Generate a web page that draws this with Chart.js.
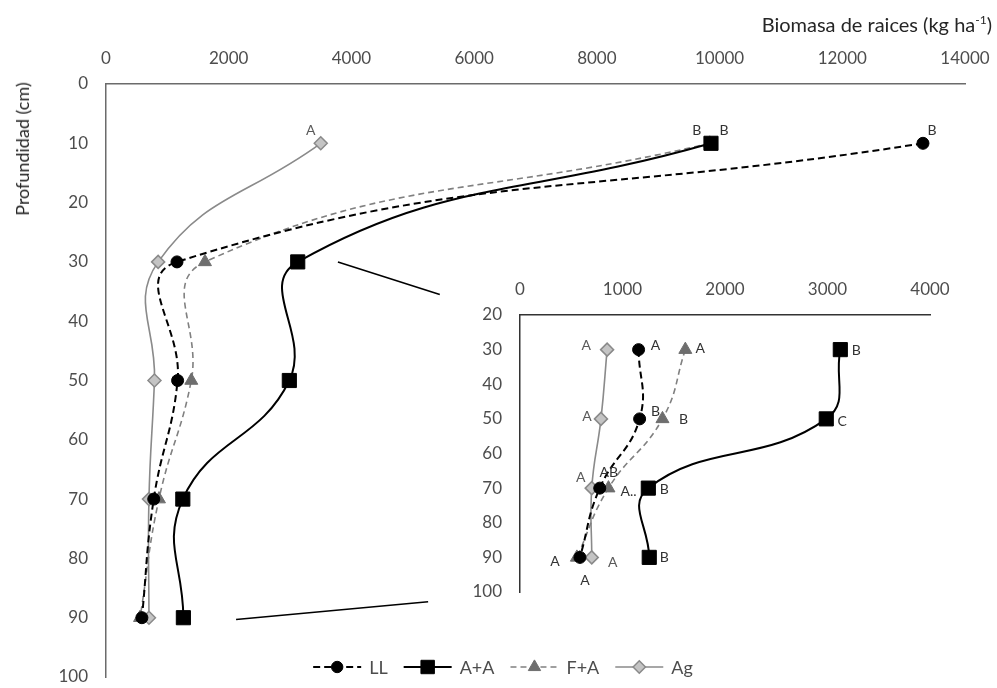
<!DOCTYPE html>
<html>
<head>
<meta charset="utf-8">
<script src="https://cdn.jsdelivr.net/npm/chart.js@4.4.1/dist/chart.umd.min.js"></script>
<style>
  body { margin: 0; background: #fff; font-family: Lato, sans-serif; }
  #wrap { position: relative; width: 997px; height: 688px; }
  #main { position: absolute; left: 0; top: 0; }
  #inset { position: absolute; left: 440px; top: 270px; }
  .ttl { position: absolute; color: #262626; font-size: 20px; white-space: nowrap; }
  #xTitle { right: 5px; top: 12px; }
  #xTitle sup { font-size: 12px; }
  #yTitle { left: 22px; top: 149px; transform: translate(-50%, -50%) rotate(-90deg); font-size: 18px; }
</style>
</head>
<body>
<div id="wrap">
  <canvas id="main" width="997" height="688"></canvas>
  <canvas id="inset" width="530" height="335"></canvas>
  <div class="ttl" id="xTitle">Biomasa de raices (kg ha<sup>-1</sup>)</div>
  <div class="ttl" id="yTitle">Profundidad (cm)</div>
</div>
<script>
// profundidad (cm) de cada muestra
const depths = [10, 30, 50, 70, 90];

// biomasa de raices (kg/ha) por tratamiento
const seriesNames = ['LL', 'A+A', 'F+A', 'Ag'];
const valuesLL = [13315, 1157, 1167, 778, 585];
const valuesAA = [9860, 3125, 2988, 1252, 1261];
const valuesFA = [9840, 1613, 1390, 863, 555];
const valuesAg = [3500, 850, 790, 700, 700];

// letras de significancia (10 cm en el grafico principal, 30-90 cm en el detalle)
const lettersLL = ['B', 'A', 'B', 'AB', 'A'];
const lettersAA = ['B', 'B', 'C', 'B', 'B'];
const lettersFA = ['B', 'A', 'B', 'A..', 'A'];
const lettersAg = ['A', 'A', 'A', 'A', 'A'];

const mainXTicks = [0, 2000, 4000, 6000, 8000, 10000, 12000, 14000];
const insetXTicks = [0, 1000, 2000, 3000, 4000];

// where each letter sits relative to its point (px)
const letterOffsets = [
  [[9, -13], [17, -4], [16, -7], [9, -16], [-25, 4]],
  [[13, -13], [16, 1], [16, 3], [16, 1], [15, 0]],
  [[-13, -13], [15, -1], [21, 1], [20, 3], [8, 23]],
  [[-10, -13], [-21, -4], [-14, -2], [-11, -11], [21, 5]]
];

const FONT = 'Lato, sans-serif';
const TICK_COLOR = '#4d4d4d';

const styles = [
  { color: '#000000', fill: '#000000', dash: [7, 4], width: 2, point: 'circle', r: 6 },
  { color: '#000000', fill: '#000000', dash: [], width: 2, point: 'rect', r: 10 },
  { color: '#808080', fill: '#6e6e6e', dash: [6, 4], width: 1.6, point: 'triangle', r: 7.5 },
  { color: '#8a8a8a', fill: '#c4c4c4', dash: [], width: 1.6, point: 'rectRot', r: 6.5 }
];
const allValues = [valuesLL, valuesAA, valuesFA, valuesAg];
const allLetters = [lettersLL, lettersAA, lettersFA, lettersAg];

function buildDatasets(from) {
  return seriesNames.map((name, s) => ({
    label: name,
    data: depths.slice(from).map((d, i) => ({ x: allValues[s][i + from], y: d })),
    letters: allLetters[s].slice(from),
    offsets: letterOffsets[s].slice(from),
    showLine: true,
    tension: 0.45,
    borderColor: styles[s].color,
    borderWidth: styles[s].width,
    borderDash: styles[s].dash,
    backgroundColor: styles[s].fill,
    pointStyle: styles[s].point,
    pointRadius: styles[s].r,
    pointBorderColor: s === 3 ? '#8a8a8a' : styles[s].fill,
    pointBorderWidth: s === 3 ? 1.5 : 1
  }));
}

// letters next to the markers
const letterPlugin = {
  id: 'letters',
  afterDatasetsDraw(chart) {
    const ctx = chart.ctx;
    ctx.save();
    ctx.font = '14px ' + FONT;
    ctx.textAlign = 'center';
    ctx.textBaseline = 'middle';
    chart.data.datasets.forEach((ds, s) => {
      const meta = chart.getDatasetMeta(s);
      ctx.fillStyle = s === 3 ? '#5a5a5a' : '#333333';
      meta.data.forEach((pt, i) => {
        const off = ds.offsets[i];
        if (chart.options.showAllLetters || i === 0) {
          ctx.fillText(ds.letters[i], pt.x + off[0], pt.y + off[1]);
        }
      });
    });
    ctx.restore();
  }
};

// zoom connector lines + legend on the main chart
const mainExtras = {
  id: 'mainExtras',
  afterDraw(chart) {
    const ctx = chart.ctx;
    const xs = chart.scales.x, ys = chart.scales.y;
    ctx.save();
    ctx.strokeStyle = '#000';
    ctx.lineWidth = 1.6;
    ctx.beginPath();
    ctx.moveTo(xs.getPixelForValue(3780), ys.getPixelForValue(30));
    ctx.lineTo(xs.getPixelForValue(5440), ys.getPixelForValue(35.5));
    ctx.moveTo(xs.getPixelForValue(2120), ys.getPixelForValue(90.3));
    ctx.lineTo(xs.getPixelForValue(5250), ys.getPixelForValue(87.3));
    ctx.stroke();

    // legend
    ctx.font = '18px ' + FONT;
    ctx.textBaseline = 'middle';
    const lineLen = 48, gap = 8, itemGap = 16;
    let total = 0;
    seriesNames.forEach(n => { total += lineLen + gap + ctx.measureText(n).width + itemGap; });
    total -= itemGap;
    let x = 503 - total / 2;
    const y = 667;
    chart.data.datasets.forEach((ds, s) => {
      ctx.save();
      ctx.strokeStyle = ds.borderColor;
      ctx.lineWidth = ds.borderWidth;
      ctx.setLineDash(ds.borderDash);
      ctx.beginPath();
      ctx.moveTo(x, y);
      ctx.lineTo(x + lineLen, y);
      ctx.stroke();
      ctx.setLineDash([]);
      ctx.fillStyle = ds.backgroundColor;
      ctx.strokeStyle = ds.pointBorderColor;
      ctx.lineWidth = ds.pointBorderWidth;
      Chart.helpers.drawPoint(ctx, { pointStyle: ds.pointStyle, radius: ds.pointRadius * 0.95, borderWidth: ds.pointBorderWidth }, x + lineLen / 2, y);
      ctx.restore();
      ctx.fillStyle = TICK_COLOR;
      ctx.fillText(ds.label, x + lineLen + gap, y + 1);
      x += lineLen + gap + ctx.measureText(ds.label).width + itemGap;
    });
    ctx.restore();
  }
};

function axisOptions(xMax, xTicks, yMin, yWidth, xHeight, borderColor) {
  return {
    x: {
      type: 'linear', position: 'top', min: 0, max: xMax,
      afterBuildTicks: (sc) => { sc.ticks = xTicks.map(v => ({ value: v })); },
      afterFit: (sc) => { sc.height = xHeight; sc.paddingLeft = 0; sc.paddingRight = 0; },
      grid: { display: false, drawTicks: false, tickLength: 0 },
      border: { display: true, color: borderColor, width: 1.5 },
      ticks: { color: TICK_COLOR, font: { family: FONT, size: 17 }, padding: 15, maxRotation: 0, autoSkip: false,
               callback: (v) => String(v) }
    },
    y: {
      type: 'linear', reverse: true, min: yMin, max: 100,
      ticks: { stepSize: 10, color: TICK_COLOR, font: { family: FONT, size: 17 }, padding: 18,
               callback: (v) => String(v) },
      afterFit: (sc) => { sc.width = yWidth; sc.paddingTop = 0; sc.paddingBottom = 0; },
      grid: { display: false, drawTicks: false, tickLength: 0 },
      border: { display: true, color: borderColor, width: 1.5 }
    }
  };
}

new Chart(document.getElementById('main'), {
  type: 'scatter',
  data: { datasets: buildDatasets(0) },
  options: {
    responsive: false,
    animation: false,
    showAllLetters: false,
    layout: { padding: { left: 0, top: 0, right: 32, bottom: 6 } },
    plugins: { legend: { display: false }, tooltip: { enabled: false } },
    scales: axisOptions(14000, mainXTicks, 0, 106, 84, '#6b6b6b')
  },
  plugins: [letterPlugin, mainExtras]
});

new Chart(document.getElementById('inset'), {
  type: 'scatter',
  data: { datasets: buildDatasets(1) },
  options: {
    responsive: false,
    animation: false,
    showAllLetters: true,
    layout: { padding: { left: 0, top: 0, right: 40, bottom: 13 } },
    plugins: { legend: { display: false }, tooltip: { enabled: false } },
    scales: axisOptions(4000, insetXTicks, 20, 80, 45, '#333333')
  },
  plugins: [letterPlugin]
});
</script>
</body>
</html>
